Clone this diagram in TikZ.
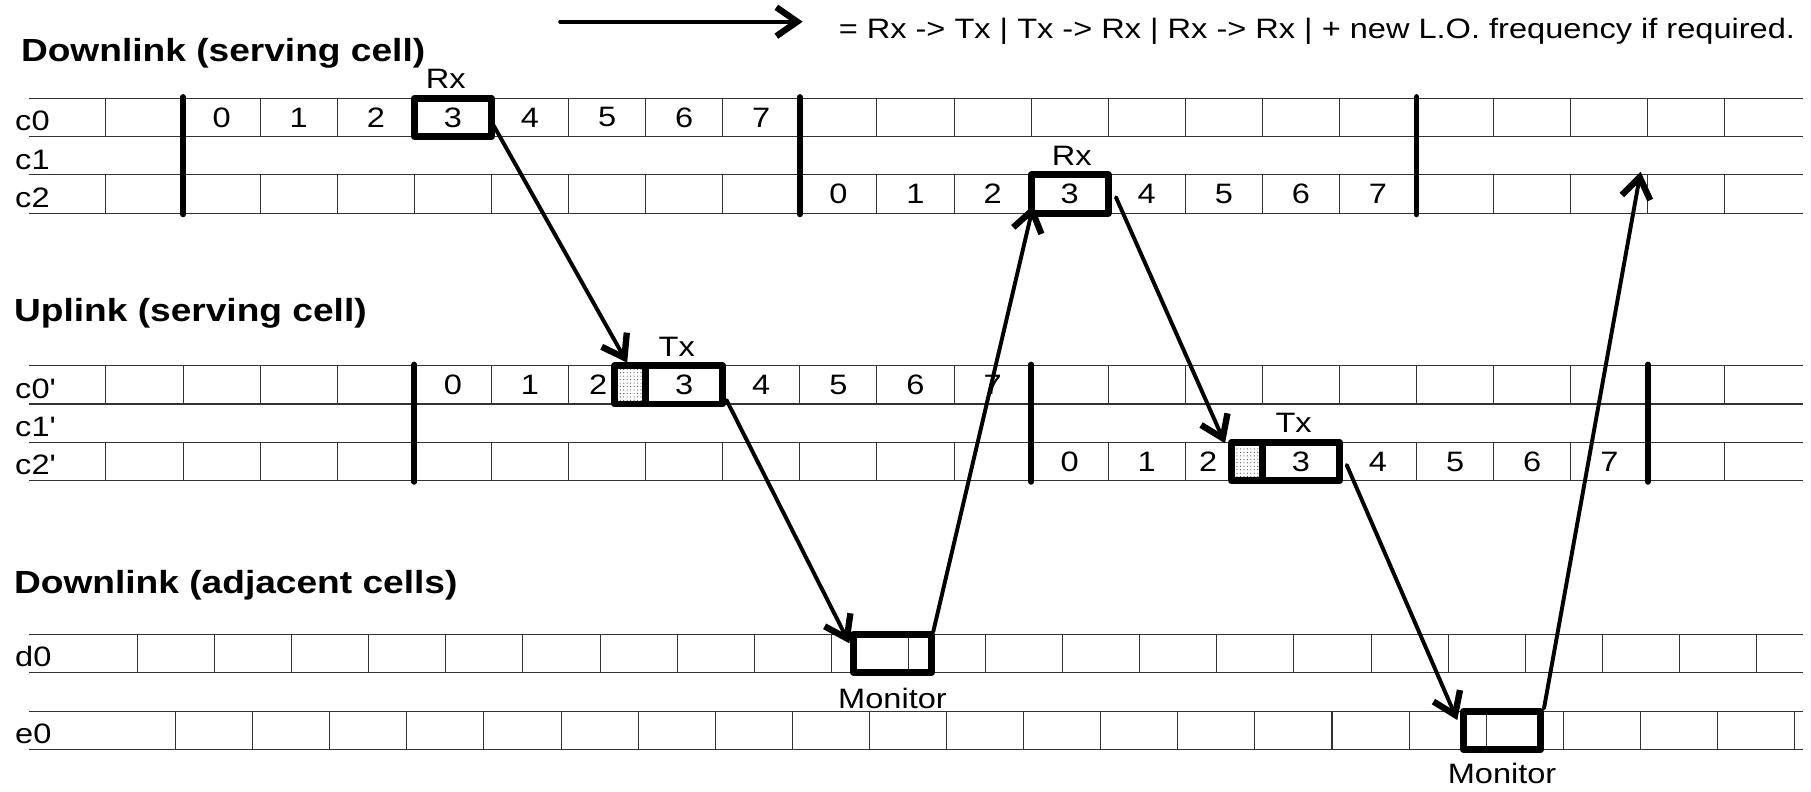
\documentclass[tikz,border=0pt]{standalone}
\usepackage{fontspec}
\setmainfont{Liberation Sans}[FakeStretch=1.16]
\usetikzlibrary{arrows.meta,patterns}
\begin{document}
\begin{tikzpicture}[x=1pt,y=-1pt,
  gline/.style={line width=0.9pt,black!80},
  tbar/.style={line width=5pt,line cap=round},
  slotbox/.style={draw,line width=6pt,line join=round,inner sep=0pt,outer sep=0pt},
  divider/.style={line width=6pt},
  num/.style={inner sep=0pt,font=\fontsize{24.3}{28}\selectfont},
  lab/.style={inner sep=0pt,anchor=base west,font=\fontsize{24.3}{28}\selectfont},
  tag/.style={inner sep=0pt,anchor=base,font=\fontsize{24.3}{28}\selectfont},
  head/.style={inner sep=0pt,anchor=base west,font=\fontsize{27.7}{32}\selectfont\bfseries},
  arr/.style={line width=3.4pt,line cap=round,-{Straight Barb[length=18pt,width=25pt,line width=5.5pt 0]}}
]
\useasboundingbox (0,0) rectangle (1568,685.7);

% ---------- horizontal lines ----------
\foreach \y in {85,118.2,151.4,184.6,316.6,349.8,383,416.2,549,582,616,649}
  \draw[gline] (25,\y) -- (1561,\y);

% ---------- vertical slot lines ----------
\foreach \k in {1,...,22}{
  \draw[gline] ({25+66.75*\k},85) -- ({25+66.75*\k},118.2);
  \draw[gline] ({25+66.75*\k},151.4) -- ({25+66.75*\k},184.6);
  \draw[gline] ({25+66.75*\k},316.6) -- ({25+66.75*\k},349.8);
  \draw[gline] ({25+66.75*\k},383) -- ({25+66.75*\k},416.2);
  \draw[gline] ({52.3+66.75*\k},549) -- ({52.3+66.75*\k},582);
}
\foreach \k in {0,...,21}
  \draw[gline] ({152+66.75*\k},616) -- ({152+66.75*\k},649);

% ---------- frame bars ----------
\foreach \k in {2,10,18}
  \draw[tbar] ({25+66.75*\k},84) -- ({25+66.75*\k},185.6);
\foreach \k in {5,13,21}
  \draw[tbar] ({25+66.75*\k},315.6) -- ({25+66.75*\k},417.2);

% ---------- shaded guard parts ----------
\fill[pattern=dots,pattern color=black!75] (532.25,316.6) rectangle (559,349.8);
\fill[pattern=dots,pattern color=black!75] (1066.25,383) rectangle (1093,416.2);

% ---------- highlighted boxes ----------
\node[slotbox,minimum width=66.75pt,minimum height=33.2pt] (rxA) at (392.125,101.6) {};
\node[slotbox,minimum width=66.75pt,minimum height=33.2pt] (rxB) at (926.125,168) {};
\node[slotbox,minimum width=93.5pt,minimum height=33.2pt] (txA) at (579,333.2) {};
\node[slotbox,minimum width=93.5pt,minimum height=33.2pt] (txB) at (1113,399.6) {};
\draw[divider] (txA.north west) ++(26.75,0) -- ++(0,33.2);
\draw[divider] (txB.north west) ++(26.75,0) -- ++(0,33.2);
\node[slotbox,minimum width=67.5pt,minimum height=33pt] (monA) at (772.75,565.5) {};
\node[slotbox,minimum width=67pt,minimum height=33pt] (monB) at (1300.5,632.5) {};

% ---------- slot numbers ----------
\foreach \i in {0,...,7}{
  \node[num] (nA\i) at ({25+66.75*(2.5+\i)},101.6) {\i};
  \node[num] (nB\i) at ({25+66.75*(10.5+\i)},168) {\i};
}
\foreach \i in {0,1,3,4,5,6,7}{
  \node[num] (nC\i) at ({25+66.75*(5.5+\i)},333.2) {\i};
  \node[num] (nD\i) at ({25+66.75*(13.5+\i)},399.6) {\i};
}
\node[num] (nC2) at (518,333.2) {2};
\node[num] (nD2) at (1046,399.6) {2};

% ---------- tags ----------
\node[tag] (trxA) at (386,76.5) {Rx};
\node[tag] (trxB) at (928,143) {Rx};
\node[tag] (ttxA) at (586,309) {Tx};
\node[tag] (ttxB) at (1120,374.5) {Tx};
\node[tag] (tmonA) at (772.75,613) {Monitor};
\node[tag] (tmonB) at (1300.5,678) {Monitor};

% ---------- row labels ----------
\node[lab] (lc0) at (13,113.2) {c0};
\node[lab] (lc1) at (13,146.4) {c1};
\node[lab] (lc2) at (13,179.6) {c2};
\node[lab] (lc0p) at (13,344.8) {c0\textquotesingle};
\node[lab] (lc1p) at (13,378) {c1\textquotesingle};
\node[lab] (lc2p) at (13,411.2) {c2\textquotesingle};
\node[lab] (ld0) at (13,577) {d0};
\node[lab] (le0) at (13,644) {e0};

% ---------- headings ----------
\node[head] (h1) at (18,53) {Downlink (serving cell)};
\node[head] (h2) at (12,278) {Uplink (serving cell)};
\node[head] (h3) at (12,514) {Downlink (adjacent cells)};

% ---------- legend ----------
\coordinate (legS) at (485,18.8);
\coordinate (legE) at (695,18.8);
\draw[arr] (legS) -- (legE);
\node[lab] (legtxt) at (726,33) {= Rx -> Tx | Tx -> Rx | Rx -> Rx | + new L.O. frequency if required.};

% ---------- transitions ----------
\coordinate (a1s) at (427,108);     \coordinate (a1e) at (543,314);
\coordinate (a2s) at (629,346.3);   \coordinate (a2e) at (735.4,557);
\coordinate (a3s) at (808,547);     \coordinate (a3e) at (894.7,177.5);
\coordinate (a4s) at (966.2,170.8); \coordinate (a4e) at (1060.6,383.8);
\coordinate (a5s) at (1166,402.6);  \coordinate (a5e) at (1261.7,623.4);
\coordinate (a6s) at (1336.8,613.3);\coordinate (a6e) at (1420.5,148.6);
\draw[arr] (a1s) -- (a1e);
\draw[arr] (a2s) -- (a2e);
\draw[arr] (a3s) -- (a3e);
\draw[arr] (a4s) -- (a4e);
\draw[arr] (a5s) -- (a5e);
\draw[arr] (a6s) -- (a6e);
\end{tikzpicture}
\end{document}
